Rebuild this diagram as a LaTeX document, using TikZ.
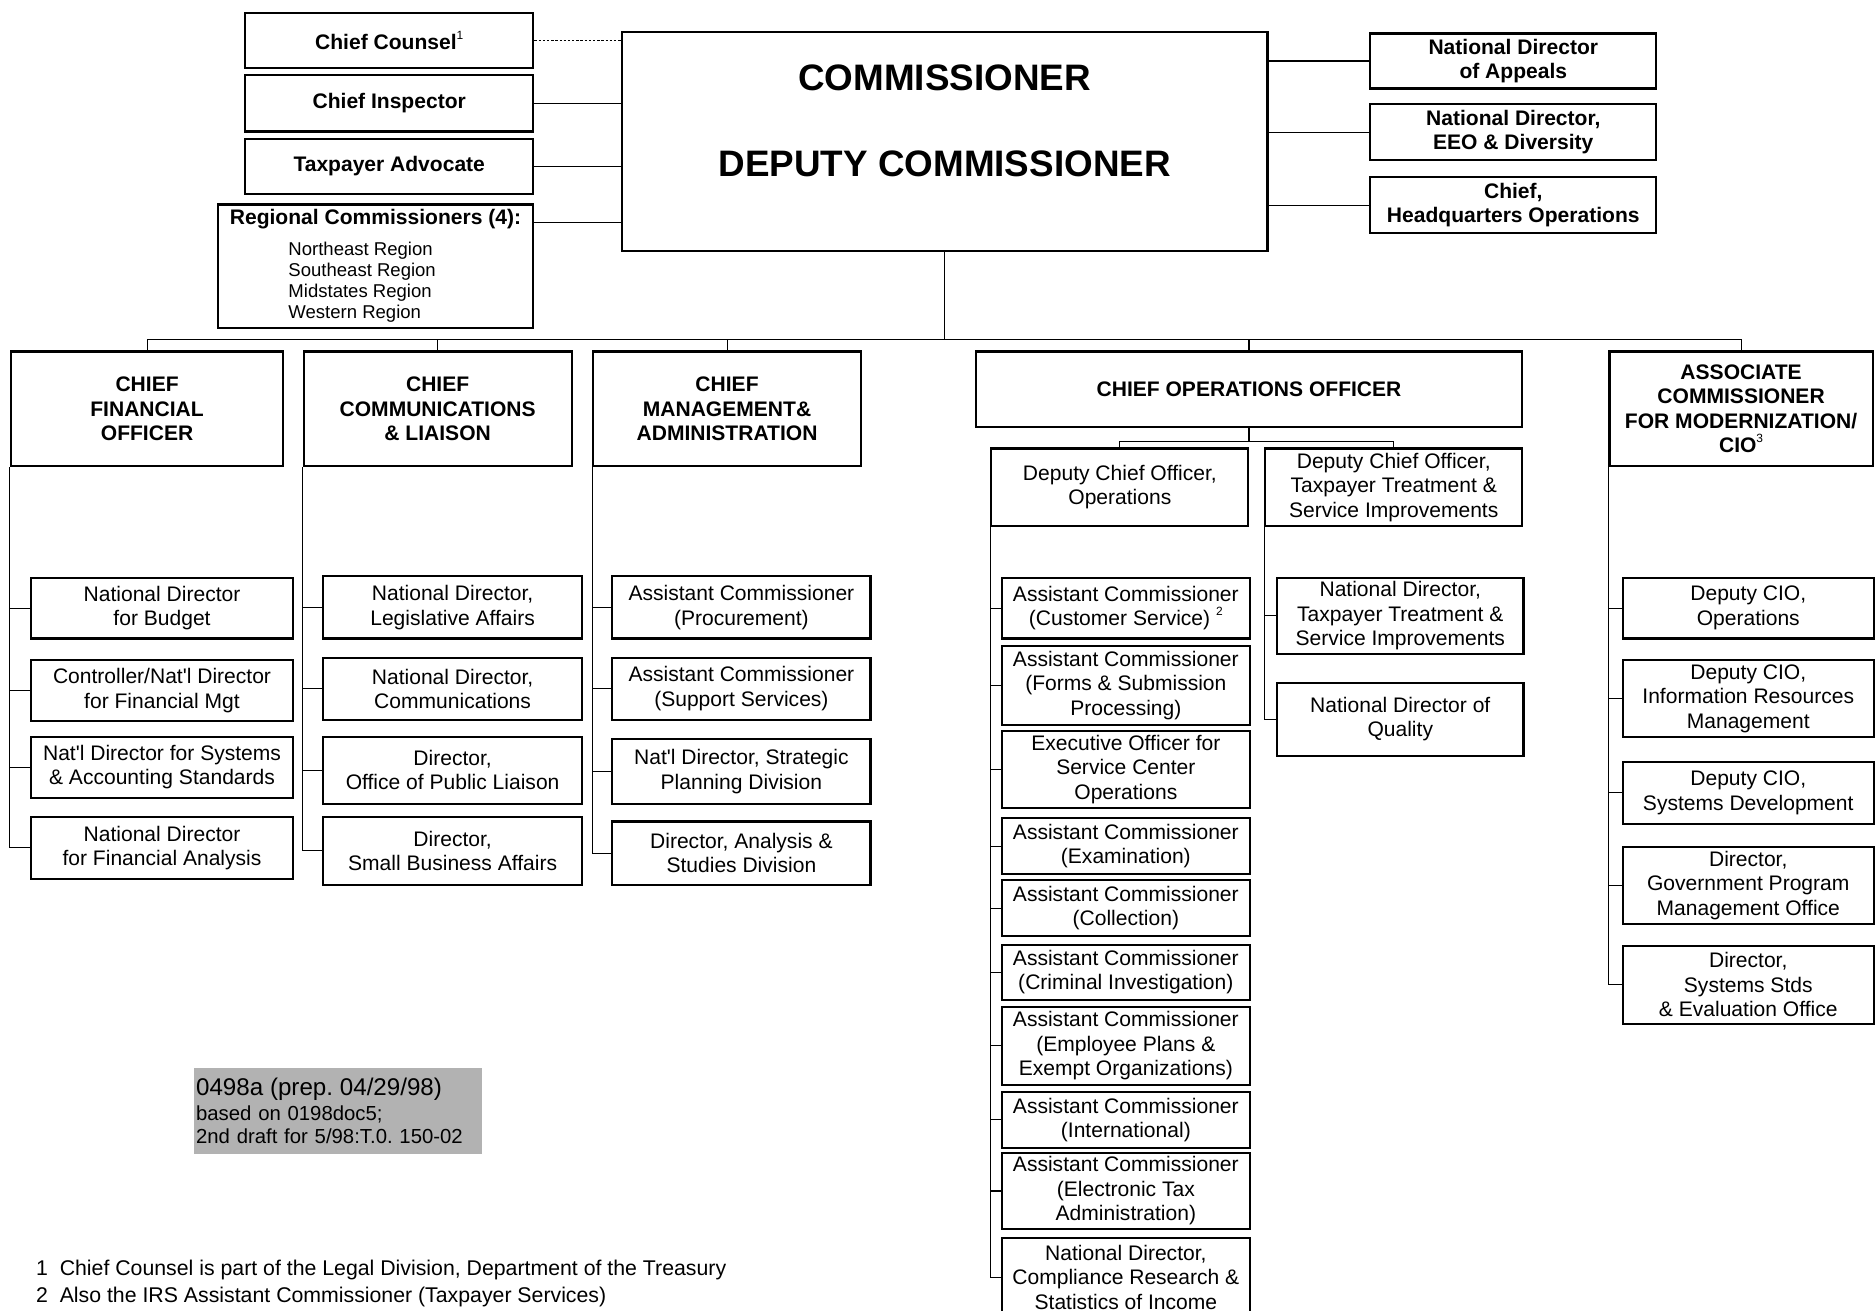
\documentclass[tikz,border=0pt]{standalone}
\usepackage{fontspec}
\setmainfont{Liberation Sans}
\frenchspacing
\definecolor{notegray}{RGB}{178,178,178}
\newcommand{\supnum}[1]{\raisebox{0.5em}{\fontsize{10}{10}\selectfont\mdseries #1}}

\begin{document}
\begin{tikzpicture}
    [x=1pt,y=-1pt,
    head/.style={draw,line width=1.8pt,inner sep=1pt,align=center,font=\fontsize{17.6}{20.5}\selectfont\bfseries},
    office/.style={draw,line width=1.8pt,inner sep=1pt,align=center,font=\fontsize{17.6}{20.5}\selectfont},
    boxsize/.style 2 args={minimum width=#1pt,minimum height=#2pt},
    title/.style={font=\fontsize{30.8}{36}\selectfont\bfseries,inner sep=0pt},
    link/.style={line width=0.9pt}]
		\useasboundingbox (0,0) rectangle (1568,1096);
		\clip (0,0) rectangle (1568,1096);

		\node [draw,line width=1.8pt,boxsize={540}{183}] (comm) at (790,118.5) {};
		\node [title] (commtitle) at (790,65) {COMMISSIONER};
		\node [title] (deputytitle) at (790,137) {DEPUTY COMMISSIONER};

		\node [head,boxsize={241}{46}] (counsel) at (325.5,34) {Chief Counsel\supnum{1}};
		\node [head,boxsize={241}{47}] (inspector) at (325.5,86.5) {Chief Inspector};
		\node [head,boxsize={241}{46}] (advocate) at (325.5,139) {Taxpayer Advocate};
		\node [office,boxsize={264}{103},align=left,font=\fontsize{15.5}{17.7}\selectfont] (regional) at (314,222.5)
			{{\fontsize{17.6}{20}\selectfont\bfseries Regional Commissioners (4):}\\[8pt]
			\hspace*{49pt}Northeast Region\\ \hspace*{49pt}Southeast Region\\
			\hspace*{49pt}Midstates Region\\ \hspace*{49pt}Western Region};

		\node [head,boxsize={239}{46}] (appeals) at (1265.5,51) {National Director\\of Appeals};
		\node [head,boxsize={239}{47}] (eeo) at (1265.5,110.5) {National Director,\\EEO \& Diversity};
		\node [head,boxsize={239}{47}] (hq) at (1265.5,171.5) {Chief,\\Headquarters Operations};

		\draw[link,dash pattern=on 2pt off 1.5pt] (counsel.east) -- (counsel.east -| comm.west);
		\foreach \n in {inspector,advocate} \draw[link] (\n.east) -- (\n.east -| comm.west);
		\draw[link] ([yshift=36.5pt]regional.east) -- ([yshift=36.5pt]regional.east -| comm.west);
		\foreach \n in {appeals,eeo,hq} \draw[link] (\n.west) -- (\n.west -| comm.east);

		\node [head,boxsize={228}{96}] (cfo) at (123,342) {CHIEF\\FINANCIAL\\OFFICER};
		\node [head,boxsize={224}{96}] (ccl) at (366,342) {CHIEF\\COMMUNICATIONS\\\& LIAISON};
		\node [head,boxsize={224}{96}] (cma) at (608,342) {CHIEF\\MANAGEMENT\&\\ADMINISTRATION};
		\node [head,boxsize={457}{63}] (coo) at (1044.5,325.5) {CHIEF OPERATIONS OFFICER};
		\node [head,boxsize={220}{96}] (cio) at (1456,342) {ASSOCIATE\\COMMISSIONER\\FOR MODERNIZATION/\\CIO\supnum{3}};

		\draw[link] (comm.south) -- ++(0,73) coordinate (hub);
		\draw[link] (cfo.north |- hub) -- (cio.north |- hub);
		\foreach \n in {cfo,ccl,cma,coo,cio} \draw[link] (\n.north) -- (\n.north |- hub);

		\node [office,boxsize={219}{51}] (budget) at (135.5,508.5) {National Director\\for Budget};
		\node [office,boxsize={219}{51}] (finmgt) at (135.5,577.5) {Controller/Nat\textquotesingle l Director\\for Financial Mgt};
		\node [office,boxsize={219}{51}] (sysstd) at (135.5,641.5) {Nat\textquotesingle l Director for Systems\\\& Accounting Standards};
		\node [office,boxsize={219}{52}] (finanal) at (135.5,709) {National Director\\for Financial Analysis};
		\foreach \n in {budget,finmgt,sysstd,finanal} \draw[link] (cfo.south west) |- (\n.west);

		\node [office,boxsize={217}{52}] (legis) at (378.5,508) {National Director,\\Legislative Affairs};
		\node [office,boxsize={217}{52}] (commdir) at (378.5,576) {National Director,\\Communications};
		\node [office,boxsize={217}{56}] (liaison) at (378.5,644) {Director,\\Office of Public Liaison};
		\node [office,boxsize={217}{57}] (smallbiz) at (378.5,711.5) {Director,\\Small Business Affairs};
		\foreach \n in {legis,commdir,liaison,smallbiz} \draw[link] (ccl.south west) |- (\n.west);

		\node [office,boxsize={216}{52}] (procure) at (620,508) {Assistant Commissioner\\(Procurement)};
		\node [office,boxsize={216}{52}] (support) at (620,576) {Assistant Commissioner\\(Support Services)};
		\node [office,boxsize={216}{54}] (strategic) at (620,645) {Nat\textquotesingle l Director, Strategic\\Planning Division};
		\node [office,boxsize={216}{53}] (studies) at (620,713.5) {Director, Analysis \&\\Studies Division};
		\foreach \n in {procure,support,strategic,studies} \draw[link] (cma.south west) |- (\n.west);

		\node [office,boxsize={215}{65}] (dco) at (936.5,407.5) {Deputy Chief Officer,\\Operations};
		\node [office,boxsize={215}{65}] (dtt) at (1165.5,407.5) {Deputy Chief Officer,\\Taxpayer Treatment \&\\Service Improvements};
		\draw[link] (coo.south) -- ++(0,11) coordinate (split);
		\draw[link] (dco.north) |- (split) -| (dtt.north);

		\node [office,boxsize={207}{51}] (custsvc) at (941.5,508.5) {Assistant Commissioner\\(Customer Service) \supnum{2}};
		\node [office,boxsize={207}{66}] (forms) at (941.5,573) {Assistant Commissioner\\(Forms \& Submission\\Processing)};
		\node [office,boxsize={207}{65}] (svccenter) at (941.5,643.5) {Executive Officer for\\Service Center\\Operations};
		\node [office,boxsize={207}{47}] (exam) at (941.5,707.5) {Assistant Commissioner\\(Examination)};
		\node [office,boxsize={207}{47}] (collect) at (941.5,759.5) {Assistant Commissioner\\(Collection)};
		\node [office,boxsize={207}{46}] (criminal) at (941.5,813) {Assistant Commissioner\\(Criminal Investigation)};
		\node [office,boxsize={207}{65}] (epeo) at (941.5,874.5) {Assistant Commissioner\\(Employee Plans \&\\Exempt Organizations)};
		\node [office,boxsize={207}{47}] (intl) at (941.5,936.5) {Assistant Commissioner\\(International)};
		\node [office,boxsize={207}{64}] (etax) at (941.5,996) {Assistant Commissioner\\(Electronic Tax\\Administration)};
		\node [office,boxsize={207}{66}] (soi) at (941.5,1068) {National Director,\\Compliance Research \&\\Statistics of Income};
		\foreach \n in {custsvc,forms,svccenter,exam,collect,criminal,epeo,intl,etax,soi}
			\draw[link] (dco.south west) |- (\n.west);

		\node [office,boxsize={206}{64}] (ttsi) at (1171,515) {National Director,\\Taxpayer Treatment \&\\Service Improvements};
		\node [office,boxsize={206}{61}] (quality) at (1171,601.5) {National Director of\\Quality};
		\foreach \n in {ttsi,quality} \draw[link] (dtt.south west) |- (\n.west);

		\node [office,boxsize={210}{51}] (cioops) at (1462,508.5) {Deputy CIO,\\Operations};
		\node [office,boxsize={210}{64}] (cioirm) at (1462,584) {Deputy CIO,\\Information Resources\\Management};
		\node [office,boxsize={210}{52}] (ciosys) at (1462,663) {Deputy CIO,\\Systems Development};
		\node [office,boxsize={210}{65}] (gpmo) at (1462,740.5) {Director,\\Government Program\\Management Office};
		\node [office,boxsize={210}{65}] (evalo) at (1462,823.5) {Director,\\Systems Stds\\\& Evaluation Office};
		\foreach \n in {cioops,cioirm,ciosys,gpmo,evalo} \draw[link] (cio.south west) |- (\n.west);

		\node [fill=notegray,text width=237pt,minimum height=72pt,inner sep=2pt,align=left,font=\fontsize{17}{19}\selectfont] (draftnote) at (282.5,929)
			{{\fontsize{20.2}{22}\selectfont 0498a (prep. 04/29/98)}\\[2pt] based on 0198doc5;\\ 2nd draft for 5/98:T.0. 150-02};

		\node [anchor=west,inner sep=0pt,font=\fontsize{17.8}{20}\selectfont] (note1) at (30,1062) {1\ \ Chief Counsel is part of the Legal Division, Department of the Treasury};
		\node [anchor=west,inner sep=0pt,font=\fontsize{17.8}{20}\selectfont] (note2) at (30,1085) {2\ \ Also the IRS Assistant Commissioner (Taxpayer Services)};
\end{tikzpicture}
\end{document}
